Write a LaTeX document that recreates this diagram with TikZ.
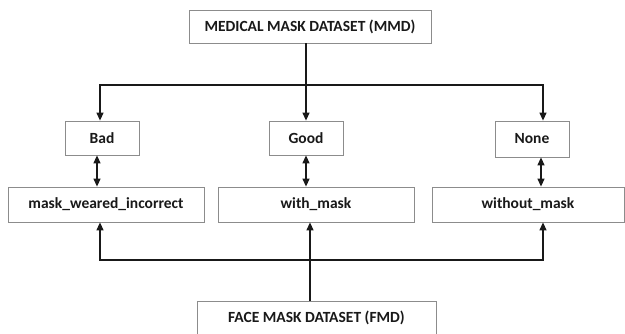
\documentclass[tikz,border=0pt]{standalone}
\usepackage{fontspec}
\setmainfont{Carlito}
\usetikzlibrary{arrows.meta,calc}
\begin{document}
\begin{tikzpicture}[x=1pt,y=-1pt,
  box/.style={draw=black!45,line width=0.8pt,fill=white,inner sep=0pt,
    font=\bfseries\fontsize{15.5}{18}\selectfont,text=black!90},
  link/.style={line width=1.2pt,draw=black!90,-{Triangle[length=8pt,width=7pt]}},
  both/.style={line width=1.2pt,draw=black!90,{Triangle[length=8pt,width=7pt]}-{Triangle[length=8pt,width=7pt]}},
  plain/.style={line width=1.2pt,draw=black!90}]
\useasboundingbox (0,0) rectangle (625,334);
% source datasets
\node[box,minimum width=242pt,minimum height=33pt] (mmd) at (310,26.5) {MEDICAL MASK DATASET (MMD)};
\node[box,minimum width=239pt,minimum height=40pt,anchor=north] (fmd) at (316.5,301) {};
\node[font=\bfseries\fontsize{15.5}{18}\selectfont,text=black!90] (fmdt) at (316.5,318) {FACE MASK DATASET (FMD)};
% MMD classes
\node[box,minimum width=74pt,minimum height=34pt] (bad) at (102,138) {Bad};
\node[box,minimum width=74pt,minimum height=34pt] (good) at (306,138) {Good};
\node[box,minimum width=74pt,minimum height=36pt] (none) at (532,139) {None};
% FMD classes
\node[box,minimum width=196pt,minimum height=35pt] (mwi) at (106,204.5) {mask\_weared\_incorrect};
\node[box,minimum width=196pt,minimum height=35pt] (wm) at (316,204.5) {with\_mask};
\node[box,minimum width=192pt,minimum height=35pt] (wom) at (528,204.5) {without\_mask};
% MMD split
\coordinate (top) at (306,85);
\draw[plain] (mmd.south -| top) -- (top);
\draw[plain] (100,85) -- (544,85);
\draw[link] (top) -- (good.north);
\draw[link] (top) -| (bad.north -| 100,0);
\draw[link] (top) -| (none.north -| 543,0);
% class correspondences
\draw[both] (bad.south -| 97,0) -- (mwi.north -| 97,0);
\draw[both] (good.south) -- (wm.north -| good.south);
\draw[both] (none.south -| 541,0) -- (wom.north -| 541,0);
% FMD split
\coordinate (bot) at (310,260);
\draw[link] (fmd.north -| bot) -- (wm.south -| bot);
\draw[plain] (100,260) -- (543,260);
\draw[link] (bot) -| (mwi.south -| 100,0);
\draw[link] (bot) -| (wom.south -| 543,0);
\end{tikzpicture}
\end{document}
